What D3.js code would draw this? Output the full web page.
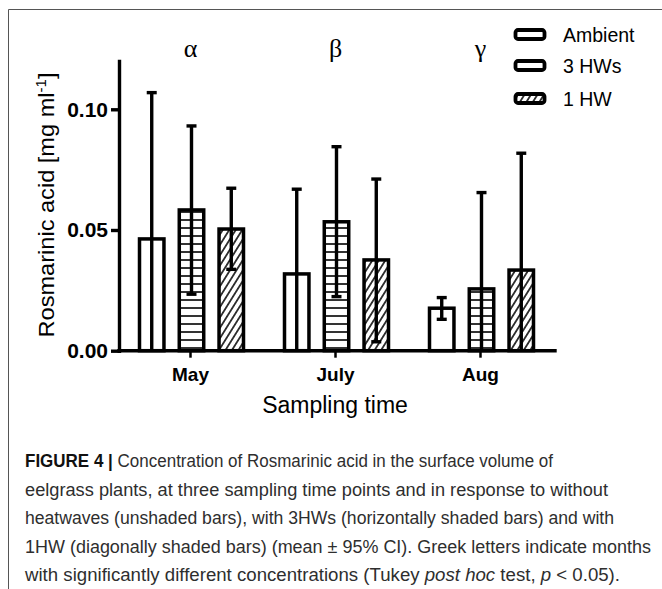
<!DOCTYPE html>
<html>
<head>
<meta charset="utf-8">
<script src="https://cdn.jsdelivr.net/npm/d3@7.9.0/dist/d3.min.js"></script>
<style>
  body { margin: 0; background: #fff; }
  svg { display: block; font-family: 'Liberation Sans', Arial, sans-serif; }
</style>
</head>
<body>
<div id="chart"></div>
<script>
// months on the x axis and the three treatments
const months = ['May', 'July', 'Aug'];
const treatments = ['Ambient', '3 HWs', '1 HW'];
const greekLetters = ['α', 'β', 'γ'];
const yTicks = [0, 0.05, 0.10];

// means and 95% CI bounds (mg/ml)
const ambientMean = [0.0463, 0.0318, 0.0176];
const ambientLow = [-0.0143, -0.0033, 0.0130];
const ambientHigh = [0.1069, 0.0669, 0.0220];

const hw3Mean = [0.0583, 0.0534, 0.0256];
const hw3Low = [0.0234, 0.0224, -0.0143];
const hw3High = [0.0931, 0.0845, 0.0655];

const hw1Mean = [0.0504, 0.0376, 0.0334];
const hw1Low = [0.0337, 0.0037, -0.0150];
const hw1High = [0.0673, 0.0711, 0.0818];

const captionLines = [
  [['FIGURE 4 |', 'b'], [' Concentration of Rosmarinic acid in the surface volume of', '']],
  [['eelgrass plants, at three sampling time points and in response to without', '']],
  [['heatwaves (unshaded bars), with 3HWs (horizontally shaded bars) and with', '']],
  [['1HW (diagonally shaded bars) (mean \u00b1 95% CI). Greek letters indicate months', '']],
  [['with significantly different concentrations (Tukey ', ''], ['post hoc', 'i'], [' test, ', ''], ['p', 'i'], [' < 0.05).', '']],
];
const captionWidths = [528, 583, 589, 626, 595];

const width = 662;
const height = 589;

const series = [
  { name: treatments[0], mean: ambientMean, low: ambientLow, high: ambientHigh, fill: '#fff' },
  { name: treatments[1], mean: hw3Mean, low: hw3Low, high: hw3High, fill: 'url(#hatch-h)' },
  { name: treatments[2], mean: hw1Mean, low: hw1Low, high: hw1High, fill: 'url(#hatch-d)' },
];

// flatten into one row per bar
const rows = [];
series.forEach((s) => {
  months.forEach((m, i) => {
    rows.push({ month: m, treatment: s.name, mean: s.mean[i], low: s.low[i], high: s.high[i], fill: s.fill });
  });
});

const svg = d3
  .select('#chart')
  .append('svg')
  .attr('width', width)
  .attr('height', height);

const defs = svg.append('defs');

// horizontal hatch for 3 HWs
const ph = defs.append('pattern')
  .attr('id', 'hatch-h')
  .attr('patternUnits', 'userSpaceOnUse')
  .attr('width', 8)
  .attr('height', 8);
ph.append('rect').attr('width', 8).attr('height', 8).attr('fill', '#fff');
ph.append('line')
  .attr('x1', 0).attr('x2', 8).attr('y1', 4).attr('y2', 4)
  .attr('stroke', '#000').attr('stroke-width', 1.6);

// diagonal hatch for 1 HW
const pd = defs.append('pattern')
  .attr('id', 'hatch-d')
  .attr('patternUnits', 'userSpaceOnUse')
  .attr('width', 5.5)
  .attr('height', 10)
  .attr('patternTransform', 'rotate(32)');
pd.append('rect').attr('width', 5.5).attr('height', 10).attr('fill', '#fff');
pd.append('line')
  .attr('x1', 2.75).attr('x2', 2.75).attr('y1', 0).attr('y2', 10)
  .attr('stroke', '#000').attr('stroke-width', 1.5);

// frame around the figure (left and top edges only are visible)
svg.append('path')
  .attr('d', `M8.5,${height}V9.5H${width}`)
  .attr('fill', 'none')
  .attr('stroke', '#555')
  .attr('stroke-width', 1);

const x = d3.scaleBand().domain(months).range([118, 553]);
const xInner = d3.scaleBand().domain(treatments).range([-51, 53]).paddingInner(0.385);
const y = d3.scaleLinear().domain([0, 0.12]).range([350.7, 61]);

const axisLeftX = 119;

// bars
const bars = svg.append('g').attr('class', 'bars');
bars.selectAll('rect')
  .data(rows)
  .join('rect')
  .attr('x', (d) => x(d.month) + x.bandwidth() / 2 + xInner(d.treatment))
  .attr('y', (d) => y(d.mean))
  .attr('width', xInner.bandwidth())
  .attr('height', (d) => y(0) - y(d.mean))
  .attr('fill', (d) => d.fill)
  .attr('stroke', '#000')
  .attr('stroke-width', 3.5);

// error bars
const capW = 10;
const err = svg.append('g').attr('class', 'errors')
  .attr('stroke', '#000')
  .attr('stroke-width', 3.4)
  .attr('fill', 'none');

rows.forEach((d) => {
  const cx = x(d.month) + x.bandwidth() / 2 + xInner(d.treatment) + xInner.bandwidth() / 2;
  const lo = Math.max(d.low, 0);
  err.append('line')
    .attr('x1', cx).attr('x2', cx)
    .attr('y1', y(lo)).attr('y2', y(d.high));
  err.append('line')
    .attr('x1', cx - capW / 2).attr('x2', cx + capW / 2)
    .attr('y1', y(d.high)).attr('y2', y(d.high));
  if (d.low > 0) {
    err.append('line')
      .attr('x1', cx - capW / 2).attr('x2', cx + capW / 2)
      .attr('y1', y(d.low)).attr('y2', y(d.low));
  }
});

// y axis
const yAxis = svg.append('g')
  .attr('class', 'y-axis')
  .attr('transform', `translate(${axisLeftX},0)`)
  .call(d3.axisLeft(y).tickValues(yTicks).tickFormat(d3.format('.2f')).tickSize(8).tickSizeOuter(0).tickPadding(3));
yAxis.select('.domain').attr('stroke-width', 3.4).attr('stroke-linecap', 'square');
yAxis.selectAll('.tick line').attr('stroke-width', 3.4);
yAxis.selectAll('.tick text')
  .attr('font-size', 21)
  .attr('font-weight', 'bold')
  .attr('font-family', "'Liberation Sans', Arial, sans-serif")
  .attr('fill', '#000');

// x axis
const xAxis = svg.append('g')
  .attr('class', 'x-axis')
  .attr('transform', `translate(0,${y(0)})`)
  .call(d3.axisBottom(x).tickSize(7).tickSizeOuter(0).tickPadding(10));
xAxis.select('.domain').remove();
xAxis.selectAll('.tick line').attr('stroke-width', 2.5);
xAxis.selectAll('.tick text')
  .attr('font-size', 19)
  .attr('font-weight', 'bold')
  .attr('font-family', "'Liberation Sans', Arial, sans-serif")
  .attr('fill', '#000');
svg.append('line')
  .attr('x1', axisLeftX).attr('x2', 555)
  .attr('y1', y(0)).attr('y2', y(0))
  .attr('stroke', '#000')
  .attr('stroke-width', 3.4)
  .attr('stroke-linecap', 'square');

// axis titles
svg.append('text')
  .attr('x', 335)
  .attr('y', 413)
  .attr('text-anchor', 'middle')
  .attr('font-size', 23)
  .text('Sampling time');

const yTitle = svg.append('text')
  .attr('transform', 'translate(54,205) rotate(-90)')
  .attr('text-anchor', 'middle')
  .attr('font-size', 22)
  .attr('textLength', 265)
  .attr('lengthAdjust', 'spacingAndGlyphs');
yTitle.append('tspan').text('Rosmarinic acid [mg ml');
yTitle.append('tspan').attr('font-size', 14).attr('dy', -8).text('-1');
yTitle.append('tspan').attr('dy', 8).text(']');

// greek letters marking significantly different months
svg.append('g')
  .selectAll('text')
  .data(months)
  .join('text')
  .attr('x', (d) => x(d) + x.bandwidth() / 2)
  .attr('y', 57)
  .attr('text-anchor', 'middle')
  .attr('font-family', "'Liberation Serif', 'Times New Roman', serif")
  .attr('font-size', 26)
  .text((d, i) => greekLetters[i]);

// legend
const legend = svg.append('g').attr('class', 'legend');
const legendRows = [34.5, 65.5, 98.5];
const legendFill = ['#fff', '#fff', 'url(#hatch-d)'];
treatments.forEach((t, i) => {
  const g = legend.append('g').attr('transform', `translate(0,${legendRows[i]})`);
  g.append('rect')
    .attr('x', 515.5).attr('y', -4.5)
    .attr('width', 29).attr('height', 9)
    .attr('rx', 2.5)
    .attr('fill', legendFill[i])
    .attr('stroke', '#000')
    .attr('stroke-width', 3.8);
  g.append('text')
    .attr('x', 563)
    .attr('y', 7)
    .attr('font-size', 19.5)
    .text(t);
});

// caption
const caption = svg.append('g').attr('class', 'caption').attr('fill', '#2e2e2e');
captionLines.forEach((parts, i) => {
  const t = caption.append('text')
    .attr('x', 25)
    .attr('y', 467 + i * 28.5)
    .attr('font-size', 17.5)
    .attr('font-family', "'Liberation Sans', Arial, sans-serif")
    .attr('textLength', captionWidths[i])
    .attr('lengthAdjust', 'spacingAndGlyphs');
  parts.forEach(([s, style]) => {
    const sp = t.append('tspan').text(s);
    if (style === 'b') sp.attr('font-weight', 'bold').attr('fill', '#111');
    if (style === 'i') sp.attr('font-style', 'italic');
  });
});
</script>
</body>
</html>
